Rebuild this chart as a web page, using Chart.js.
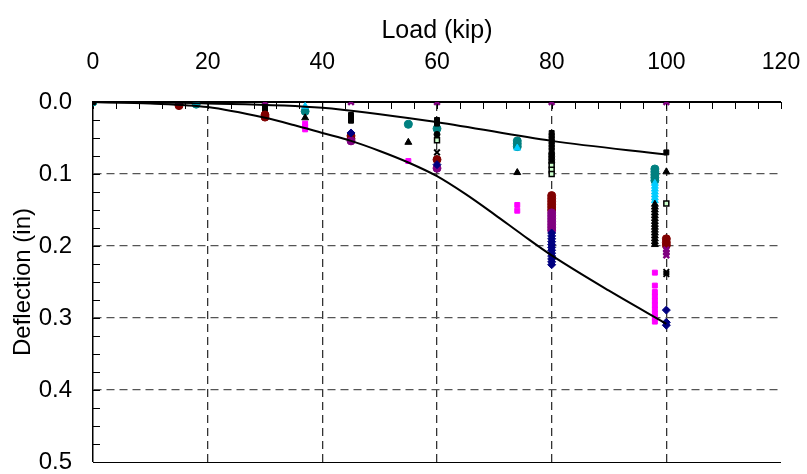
<!DOCTYPE html>
<html>
<head>
<meta charset="utf-8">
<script src="https://cdn.jsdelivr.net/npm/chart.js@4.4.1/dist/chart.umd.min.js"></script>
<style>
  html, body { margin: 0; padding: 0; background: #fff; }
  canvas { display: block; }
</style>
</head>
<body>
<canvas id="deflChart" width="807" height="474"></canvas>
<script>
// axis ticks
const loadTicks = [0, 20, 40, 60, 80, 100, 120];
const deflTicks = [0.0, 0.1, 0.2, 0.3, 0.4, 0.5];

// predicted curves (load kip, deflection in)
const upperLoad = [0, 20, 40, 60, 80, 100];
const upperDefl = [0, 0.002, 0.008, 0.028, 0.054, 0.073];
const lowerLoad = [0, 10, 20, 30, 35, 40, 45, 50, 55, 60, 65, 70, 75, 80, 90, 100];
const lowerDefl = [0, 0.002, 0.007, 0.022, 0.032, 0.043, 0.054, 0.068, 0.084, 0.103, 0.128, 0.156, 0.185, 0.213, 0.262, 0.308];

// measured gauges [load, deflection]
const tealPts = [[0, 0], [18, 0.003], [37, 0.013], [55, 0.031], [60, 0.037], [74, 0.054], [74, 0.058], [74, 0.062],
  [98, 0.093], [98, 0.097], [98, 0.101], [98, 0.105], [98, 0.109]];
const cyanPts = [[18, 0], [37, 0.006], [74, 0.064], [98, 0.113], [98, 0.117], [98, 0.121], [98, 0.125],
  [98, 0.129], [98, 0.133], [98, 0.137]];
const triPts = [[37, 0.022], [55, 0.056], [74, 0.098], [98, 0.142], [98, 0.146], [98, 0.15], [98, 0.154],
  [98, 0.158], [98, 0.162], [98, 0.166], [98, 0.17], [98, 0.174], [98, 0.178], [98, 0.182], [98, 0.186],
  [98, 0.19], [98, 0.194], [98, 0.198], [100, 0.097]];
const magentaPts = [[37, 0.03], [37, 0.034], [37, 0.038], [55, 0.082], [74, 0.143], [74, 0.151], [98, 0.237],
  [98, 0.255], [98, 0.264], [98, 0.27], [98, 0.276], [98, 0.282], [98, 0.288], [98, 0.294], [98, 0.3], [98, 0.305]];
const squarePts = [[0, 0], [15, 0], [15, 0.004], [30, 0.008], [30, 0.012], [30, 0.015], [45, 0.018], [45, 0.022],
  [45, 0.026], [60, 0.025], [60, 0.03], [80, 0.043], [80, 0.047], [80, 0.051], [80, 0.055], [80, 0.059],
  [80, 0.063], [80, 0.067], [100, 0.07]];
const dotPts = [[60, 0.045], [80, 0.072], [80, 0.076], [80, 0.08], [80, 0.084]];
const openPts = [[60, 0.053], [80, 0.088], [80, 0.094], [80, 0.1], [100, 0.141]];
const redPts = [[15, 0.005], [30, 0.018], [30, 0.021], [45, 0.047], [45, 0.051], [60, 0.08], [80, 0.13],
  [80, 0.134], [80, 0.138], [80, 0.142], [80, 0.146], [80, 0.15], [100, 0.19], [100, 0.195], [100, 0.199]];
const purpleXPts = [[15, 0], [30, 0], [45, 0], [60, 0], [80, 0], [100, 0], [100, 0.205], [100, 0.209], [100, 0.213]];
const violetPts = [[45, 0.054], [60, 0.092], [80, 0.154], [80, 0.158], [80, 0.162], [80, 0.166], [80, 0.17],
  [80, 0.174], [80, 0.178]];
const navyPts = [[45, 0.043], [60, 0.087], [80, 0.182], [80, 0.186], [80, 0.19], [80, 0.194], [80, 0.198],
  [80, 0.202], [80, 0.206], [80, 0.21], [80, 0.214], [80, 0.218], [80, 0.222], [80, 0.226], [100, 0.289],
  [100, 0.306], [100, 0.31]];
const crossPts = [[60, 0.07], [100, 0.236], [100, 0.239]];

const FONT = "'Liberation Sans', Arial, sans-serif";

const toXY = pts => pts.map(p => ({ x: p[0], y: p[1] }));
const curve = (xs, ys) => xs.map((x, i) => ({ x: x, y: ys[i] }));

function gauge(pts, style, fill, border, r, bw) {
  return {
    type: 'scatter',
    data: toXY(pts),
    pointStyle: style,
    pointRadius: r || 3.5,
    pointBackgroundColor: fill,
    pointBorderColor: border || fill,
    pointBorderWidth: bw || 1,
    order: 2
  };
}

function fitLine(xs, ys) {
  return {
    type: 'line',
    data: curve(xs, ys),
    borderColor: '#000',
    borderWidth: 2,
    pointRadius: 0,
    fill: false,
    cubicInterpolationMode: 'monotone',
    order: 1
  };
}

const isMajor = (v, step) => Math.abs(v / step - Math.round(v / step)) < 1e-6;

// short inward tick marks along the top and left axes, plus the bottom frame line
const frameTicks = {
  id: 'frameTicks',
  beforeDatasetsDraw(chart) {
    const { ctx, chartArea: a, scales: { x, y } } = chart;
    ctx.save();
    ctx.strokeStyle = '#000';
    ctx.lineWidth = 1;
    ctx.beginPath();
    x.ticks.forEach(t => {
      const px = Math.round(x.getPixelForValue(t.value)) + 0.5;
      ctx.moveTo(px, a.top);
      ctx.lineTo(px, a.top + 7);
    });
    y.ticks.forEach(t => {
      const py = Math.round(y.getPixelForValue(t.value)) + 0.5;
      ctx.moveTo(a.left, py);
      ctx.lineTo(a.left + 7, py);
    });
    const yb = Math.round(y.getPixelForValue(0.5)) + 0.5;
    ctx.moveTo(a.left, yb);
    ctx.lineTo(a.right, yb);
    ctx.stroke();
    ctx.restore();
  }
};

new Chart(document.getElementById('deflChart'), {
  type: 'scatter',
  data: {
    datasets: [
      fitLine(upperLoad, upperDefl),
      fitLine(lowerLoad, lowerDefl),
      gauge(crossPts, 'crossRot', '#000', '#000', 4, 2),
      gauge(purpleXPts, 'crossRot', '#800080', '#800080', 4, 2.5),
      gauge(navyPts, 'rectRot', '#000080', '#000080', 4),
      gauge(violetPts, 'circle', '#800080', '#800080', 4),
      gauge(redPts, 'circle', '#800000', '#800000', 4),
      gauge(openPts, 'rect', '#CCFFCC', '#000', 3.5, 1.5),
      gauge(dotPts, 'circle', '#000', '#000', 3),
      gauge(squarePts, 'rect', '#000', '#000', 3.5),
      gauge(magentaPts, 'rect', '#FF00FF', '#FF00FF', 3.5),
      gauge(triPts, 'triangle', '#000', '#000', 4),
      gauge(cyanPts, 'triangle', '#00CCFF', '#00CCFF', 4),
      gauge(tealPts, 'circle', '#008080', '#008080', 4)
    ]
  },
  options: {
    responsive: false,
    animation: false,
    devicePixelRatio: 1,
    layout: { padding: { right: 26, bottom: 12 } },
    plugins: { legend: { display: false }, tooltip: { enabled: false } },
    scales: {
      x: {
        type: 'linear',
        position: 'top',
        min: loadTicks[0],
        max: loadTicks[loadTicks.length - 1],
        afterFit: s => { s.height = 102; s.paddingLeft = 0; s.paddingRight = 0; },
        title: {
          display: true,
          text: 'Load (kip)',
          color: '#000',
          font: { family: FONT, size: 25 },
          padding: { top: 16, bottom: 0 }
        },
        ticks: {
          stepSize: 4,
          autoSkip: false,
          maxRotation: 0,
          color: '#000',
          padding: 26,
          font: { family: FONT, size: 23 },
          callback: v => (isMajor(v, 20) && loadTicks.includes(v) ? String(v) : '')
        },
        grid: {
          drawTicks: false,
          color: c => (isMajor(c.tick.value, 20) && c.tick.value > 0 && c.tick.value < 120 ? '#333' : 'rgba(0,0,0,0)'),
          lineWidth: c => (isMajor(c.tick.value, 20) && c.tick.value > 0 && c.tick.value < 120 ? 1.3 : 0)
        },
        border: { display: true, color: '#000', width: 2, dash: [8, 5] }
      },
      y: {
        type: 'linear',
        reverse: true,
        min: deflTicks[0],
        max: deflTicks[deflTicks.length - 1],
        afterFit: s => { s.width = 93; s.paddingTop = 0; s.paddingBottom = 0; },
        title: {
          display: true,
          text: 'Deflection (in)',
          color: '#000',
          font: { family: FONT, size: 24 },
          padding: { top: 9, bottom: 0 }
        },
        ticks: {
          stepSize: 0.025,
          autoSkip: false,
          color: '#000',
          padding: 21,
          font: { family: FONT, size: 24 },
          callback: v => (isMajor(v, 0.1) ? v.toFixed(1) : '')
        },
        grid: {
          drawTicks: false,
          color: c => (isMajor(c.tick.value, 0.1) && c.tick.value > 0 && c.tick.value < 0.5 ? '#555' : 'rgba(0,0,0,0)'),
          lineWidth: c => (isMajor(c.tick.value, 0.1) && c.tick.value > 0 && c.tick.value < 0.5 ? 1.3 : 0)
        },
        border: { display: true, color: '#000', width: 1.5, dash: [8, 5] }
      }
    }
  },
  plugins: [frameTicks]
});
</script>
</body>
</html>
